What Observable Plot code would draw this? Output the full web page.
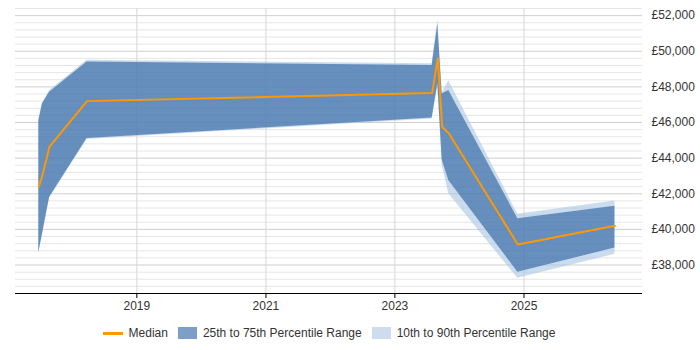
<!DOCTYPE html>
<html>
<head>
<meta charset="utf-8">
<script src="https://cdn.jsdelivr.net/npm/d3@7"></script>
<script src="https://cdn.jsdelivr.net/npm/@observablehq/plot@0.6"></script>
<style>
  body { margin: 0; background: #fff; font-family: "Liberation Sans", Arial, sans-serif; }
  #chart svg { display: block; }
  .legend { display: flex; justify-content: center; align-items: center; font-size: 12px; color: #333; height: 24px; margin-top: 8px; padding-right: 42px; }
  .legend .item { display: flex; align-items: center; margin: 0 5px; }
  .legend .line { width: 20px; height: 3px; background: #ff9800; margin-right: 6px; }
  .legend .box { width: 19px; height: 12px; margin-right: 6px; }
</style>
</head>
<body>
<div id="chart"></div>
<div class="legend">
  <div class="item"><span class="line"></span>Median</div>
  <div class="item"><span class="box" style="background:#7d9fc7"></span>25th to 75th Percentile Range</div>
  <div class="item"><span class="box" style="background:#cddcee"></span>10th to 90th Percentile Range</div>
</div>
<script>
const dates  = ["2017-06-25","2017-07-16","2017-08-25","2018-03-25","2023-07-31","2023-09-01","2023-09-26","2023-11-02","2024-11-27","2026-05-31"];
const median = [42400, 43050, 44650, 47200, 47650, 49600, 45750, 45400, 39150, 40200];
const p25    = [38700, 39750, 41800, 45100, 46250, 48200, 43900, 42750, 37600, 38950];
const p75    = [46100, 47050, 47700, 49400, 49200, 51500, 47600, 47800, 40600, 41300];
const p10    = [38650, 39700, 41750, 45050, 46200, 48000, 43600, 42000, 37250, 38600];
const p90    = [46150, 47100, 47800, 49500, 49300, 51800, 47650, 48350, 40850, 41600];
const xTickLabels = ["2019", "2021", "2023", "2025"];
const yTickValues = [38000, 40000, 42000, 44000, 46000, 48000, 50000, 52000];

const data = dates.map((d, i) => ({
  date: new Date(d), median: median[i], p25: p25[i], p75: p75[i], p10: p10[i], p90: p90[i]
}));
const xTicks = xTickLabels.map(y => new Date(y + "-01-01"));
const yMin = 36400, yMax = 52400;
const minorTicks = d3.range(yMin + 400, yMax + 1, 400).filter(v => v % 2000 !== 0);

const chart = Plot.plot({
  width: 700,
  height: 313,
  marginLeft: 15,
  marginRight: 58,
  marginTop: 8,
  marginBottom: 20,
  style: { fontFamily: "Liberation Sans, Arial, sans-serif", fontSize: "12px", color: "#333" },
  x: { type: "utc", domain: [new Date("2017-02-13"), new Date("2026-11-03")] },
  y: { domain: [yMin, yMax] },
  marks: [
    Plot.ruleY(minorTicks, { stroke: "#e6e6e6", strokeWidth: 1 }),
    Plot.ruleY(yTickValues, { stroke: "#cfcfcf", strokeWidth: 1 }),
    Plot.ruleX(xTicks, { stroke: "#d6d6d6", strokeWidth: 1 }),
    Plot.areaY(data, { x: "date", y1: "p10", y2: "p90", fill: "#a9c4e2", fillOpacity: 0.6 }),
    Plot.areaY(data, { x: "date", y1: "p25", y2: "p75", fill: "#3b6ea8", fillOpacity: 0.7 }),
    Plot.lineY(data, { x: "date", y: "median", stroke: "#ff9800", strokeWidth: 2 }),
    Plot.ruleY([yMin], { stroke: "#000", strokeWidth: 1 }),
    Plot.axisX({ ticks: xTicks, tickFormat: d3.utcFormat("%Y"), tickSize: 5, tickPadding: 3, stroke: "#000", label: null }),
    Plot.axisY({ anchor: "right", ticks: yTickValues, tickFormat: d => "£" + d3.format(",")(d), tickSize: 0, tickPadding: 9, label: null })
  ]
});
document.getElementById("chart").appendChild(chart);
</script>
</body>
</html>
